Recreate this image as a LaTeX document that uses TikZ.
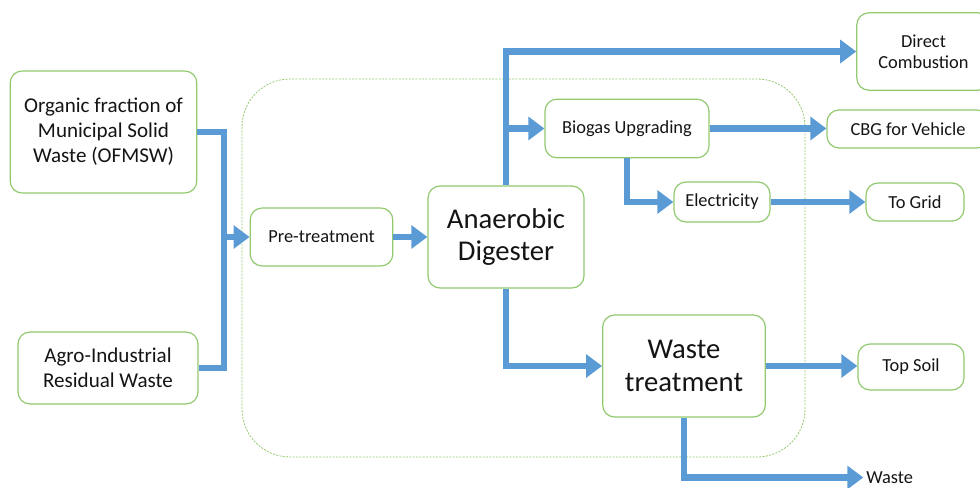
\documentclass[tikz,border=0pt]{standalone}
\usepackage{fontspec}
\setmainfont{Carlito}
\usetikzlibrary{arrows.meta}

\definecolor{flowblue}{RGB}{91,155,213}
\definecolor{boxgreen}{RGB}{146,200,110}

\tikzstyle{box}=[draw=boxgreen, line width=0.9pt, rounded corners=9pt, align=center, inner sep=0pt, text=black!92, font=\fontsize{13.8}{16}\selectfont]
\tikzstyle{srcbox}=[box, font=\fontsize{15.8}{18.7}\selectfont]
\tikzstyle{bigbox}=[box, font=\fontsize{21.5}{24.5}\selectfont]
\tikzstyle{flow}=[flowblue, line width=5.2pt, draw]
\tikzstyle{arr}=[flow, -{Triangle[length=12pt, width=17pt]}]

\begin{document}
\begin{tikzpicture}[x=0.75pt, y=-0.75pt]
  \useasboundingbox (0,0) rectangle (980,488);
  \draw [boxgreen, line width=0.6pt, dash pattern=on 1.5pt off 1pt, rounded corners=36pt] (242,79) rectangle (805,457);

  \node [srcbox, minimum width=140pt, minimum height=91.5pt] (ofmsw) at (103.5,132) {Organic fraction of\\Municipal Solid\\Waste (OFMSW)};
  \node [srcbox, minimum width=135pt, minimum height=54pt] (agro) at (108,368) {Agro-Industrial\\Residual Waste};
  \node [box, minimum width=107pt, minimum height=43.5pt] (pre) at (321.5,237) {Pre-treatment};
  \node [bigbox, minimum width=117pt, minimum height=76.5pt] (ad) at (506,237) {Anaerobic\\Digester};
  \node [box, minimum width=123pt, minimum height=44pt] (bio) at (627,128.5) {Biogas Upgrading};
  \node [box, minimum width=72pt, minimum height=30pt] (elec) at (722,202) {Electricity};
  \node [bigbox, minimum width=122pt, minimum height=76.5pt] (wt) at (684,366) {Waste\\treatment};
  \node [box, minimum width=100pt, minimum height=58pt] (dc) at (923.5,51.5) {Direct\\Combustion};
  \node [box, minimum width=121.5pt, minimum height=28.5pt] (cbg) at (908,129) {CBG for Vehicle};
  \node [box, minimum width=73.5pt, minimum height=28.5pt] (grid) at (915,202) {To Grid};
  \node [box, minimum width=79.5pt, minimum height=34.5pt] (soil) at (911,367) {Top Soil};
  \node [anchor=west, inner sep=0pt, text=black!92, font=\fontsize{13.8}{16}\selectfont] (waste) at (866,477.5) {Waste};

  \coordinate (join) at (224,237);
  \draw [flow] (ofmsw.east) -| (join) |- (agro.east);
  \draw [arr] (join) -- (pre.west);
  \draw [arr] (pre.east) -- (ad.west);
  \draw [arr] (ad.north) |- (dc.west);
  \draw [arr] (ad.north |- bio.west) -- (bio.west);
  \draw [arr] (bio.east) -- (bio.east -| cbg.west);
  \draw [arr] (bio.south) |- (elec.west);
  \draw [arr] (elec.east) -- (grid.west);
  \draw [arr] (ad.south) |- (wt.west);
  \draw [arr] (wt.east) -- (wt.east -| soil.west);
  \draw [arr] (wt.south) |- ([xshift=-2pt]waste.west);
\end{tikzpicture}
\end{document}
